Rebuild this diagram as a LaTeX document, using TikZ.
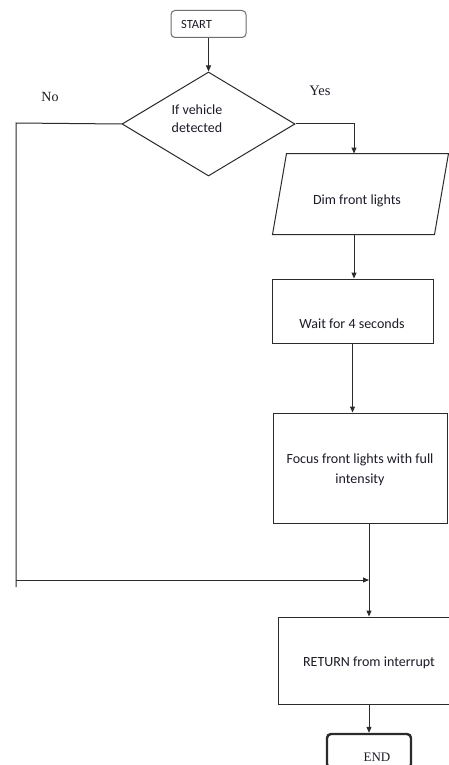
\documentclass[tikz,border=0pt]{standalone}
\usepackage{fontspec}
\setmainfont{Carlito}
\newfontfamily\serifF{Liberation Serif}
\usetikzlibrary{shapes.geometric,arrows.meta}
\definecolor{linec}{HTML}{2B2B2B}
\definecolor{startc}{HTML}{6E6E6E}
\definecolor{txtc}{HTML}{1C1C28}
\begin{document}
\begin{tikzpicture}[x=1pt,y=-1pt,line width=1pt,
  arr/.style={draw=linec,-{Triangle[length=6pt,width=5pt]}},
  ln/.style={draw=linec},
  boxs/.style={draw=linec,rectangle,inner sep=0pt},
  txt/.style={font=\fontsize{14}{18}\selectfont,align=center,inner sep=0pt,text=txtc},
  stxt/.style={font=\serifF\fontsize{14}{16}\selectfont,inner sep=0pt,text=txtc}]
\fill[white] (0,0) rectangle (448,765);
\useasboundingbox (0,0) rectangle (448,765);
% shapes
\node[boxs,draw=startc,rounded corners=4pt,minimum width=75pt,minimum height=27pt] (start) at (208.5,24) {};
\node[draw=linec,diamond,inner sep=0pt,minimum width=173pt,minimum height=104pt] (dec) at (208.5,124) {};
\node[rectangle,inner sep=0pt,minimum width=161pt,minimum height=80pt] (dim) at (360.5,194) {};
\draw[ln,line join=miter] ([xshift=7pt]dim.north west) -- ([xshift=7pt]dim.north east) -- ([xshift=-7pt]dim.south east) -- ([xshift=-7pt]dim.south west) -- cycle;
\node[boxs,minimum width=161pt,minimum height=64pt] (wait) at (352.5,311) {};
\node[boxs,minimum width=174pt,minimum height=110pt] (focus) at (360,468) {};
\node[boxs,minimum width=172pt,minimum height=87pt] (ret) at (364,660.5) {};
\node[boxs,line width=2.4pt,rounded corners=4pt,minimum width=84pt,minimum height=34pt] (end) at (369,751) {};
% texts
\node[txt,font=\fontsize{12.5}{15}\selectfont] (tstart) at (196.5,24) {START};
\node[txt] (tdec) at (197,118.5) {If vehicle\\detected};
\node[txt] (tdim) at (357,201) {Dim front lights};
\node[txt] (twait) at (352,324) {Wait for 4 seconds};
\node[txt,font=\fontsize{14}{20}\selectfont] (tfocus) at (360,470) {Focus front lights with full\\intensity};
\node[txt] (tret) at (369,663) {RETURN from interrupt};
\node[stxt,font=\serifF\fontsize{13}{15}\selectfont] (tend) at (377,757) {END};
\node[stxt] (tno) at (50,97) {No};
\node[stxt,font=\serifF\fontsize{14.5}{16}\selectfont] (tyes) at (320,91) {Yes};
% helper coordinates
\coordinate (xa) at (354,0);
\coordinate (xb) at (369,0);
\coordinate (nl) at (16,123);
\coordinate (nb) at (16,587);
\coordinate (nm) at (16,580);
\coordinate (jn) at (369,580);
% connectors
\draw[arr] (start.south) -- (dec.north);
\draw[ln] (dec.west) -- (nl) -- (nb);
\draw[arr] (dec.east) -| (xa |- dim.north);
\draw[arr] (xa |- dim.south) -- (xa |- wait.north);
\draw[arr] (wait.south) -- (wait.south |- focus.north);
\draw[arr] (xb |- focus.south) -- (xb |- ret.north);
\draw[arr] (nm) -- (jn);
\draw[arr] (xb |- ret.south) -- (end.north);
\end{tikzpicture}
\end{document}
